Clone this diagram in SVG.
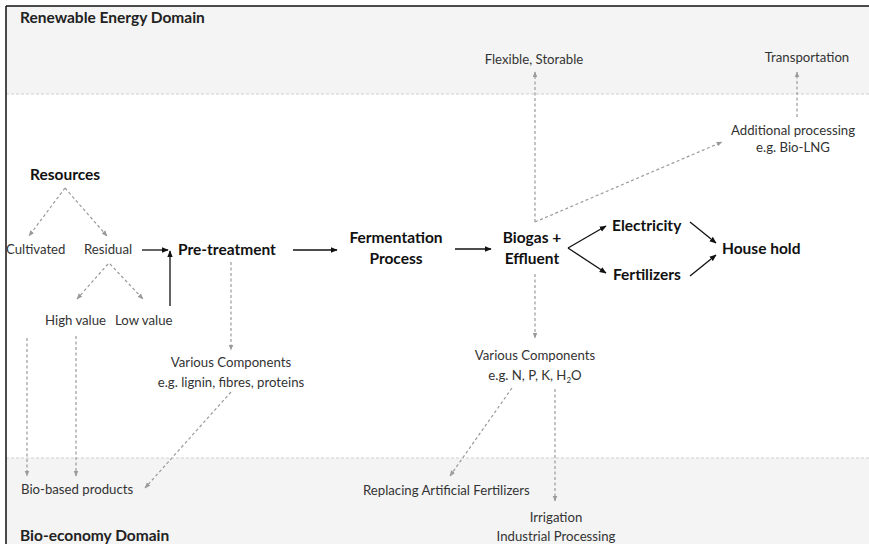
<svg xmlns="http://www.w3.org/2000/svg" width="869" height="544" viewBox="0 0 869 544">
<style>
.t{font-family:Lato,"Liberation Sans",sans-serif;font-size:13.2px;fill:#333}
.b{font-family:Lato,"Liberation Sans",sans-serif;font-size:15.5px;font-weight:bold;fill:#111}
.d{font-family:Lato,"Liberation Sans",sans-serif;font-size:15.5px;font-weight:bold;fill:#222}
.dash{stroke:#9a9a9a;stroke-width:1.2;stroke-dasharray:3,2.5;fill:none;marker-end:url(#ga)}
.sol{stroke:#111;stroke-width:1.3;fill:none;marker-end:url(#ba)}
.sep{stroke:#cfcfcf;stroke-width:1;stroke-dasharray:3,2;fill:none}
</style>
<defs>
<marker id="ga" viewBox="0 0 10 10" refX="9" refY="5" markerWidth="6" markerHeight="6" orient="auto" markerUnits="userSpaceOnUse"><path d="M0,1 L10,5 L0,9 z" fill="#9a9a9a"/></marker>
<marker id="ba" viewBox="0 0 10 10" refX="9" refY="5" markerWidth="7" markerHeight="7" orient="auto" markerUnits="userSpaceOnUse"><path d="M0,1 L10,5 L0,9 z" fill="#111"/></marker>
</defs>
<rect x="0" y="0" width="869" height="544" fill="#fff"/>
<rect x="6" y="6" width="863" height="88" fill="#f4f4f4"/>
<rect x="6" y="458" width="863" height="86" fill="#f4f4f4"/>
<line x1="6" y1="94" x2="869" y2="94" class="sep"/>
<line x1="6" y1="458" x2="869" y2="458" class="sep"/>
<line x1="6" y1="6" x2="869" y2="6" stroke="#111" stroke-width="1.5"/>
<line x1="6" y1="6" x2="6" y2="544" stroke="#111" stroke-width="1.5"/>

<g id="domain-renewable"><text class="d" x="20" y="23">Renewable Energy Domain</text></g>
<g id="domain-bio"><text class="d" x="20" y="541">Bio-economy Domain</text></g>

<g id="connectors">
<line x1="535" y1="222" x2="535" y2="72" class="dash"/>
<line x1="797" y1="117" x2="797" y2="72" class="dash"/>
<line x1="535" y1="222" x2="722" y2="142" class="dash"/>
<line x1="65" y1="188" x2="29" y2="236" class="dash"/>
<line x1="65" y1="188" x2="107" y2="236" class="dash"/>
<line x1="108" y1="264" x2="77" y2="299" class="dash"/>
<line x1="110" y1="264" x2="143" y2="299" class="dash"/>
<line x1="27" y1="338" x2="27" y2="476" class="dash"/>
<line x1="76" y1="336" x2="76" y2="476" class="dash"/>
<line x1="231" y1="262" x2="231" y2="350" class="dash"/>
<line x1="231" y1="392" x2="145" y2="488" class="dash"/>
<line x1="535" y1="274" x2="535" y2="338" class="dash"/>
<line x1="512" y1="388" x2="450" y2="476" class="dash"/>
<line x1="555" y1="389" x2="555" y2="501" class="dash"/>
<line x1="142" y1="250" x2="168" y2="250" class="sol"/>
<line x1="170" y1="306" x2="170" y2="251" class="sol"/>
<line x1="293" y1="250" x2="337" y2="250" class="sol"/>
<line x1="455" y1="249" x2="491" y2="249" class="sol"/>
<line x1="568" y1="248" x2="606" y2="226" class="sol"/>
<line x1="568" y1="248" x2="606" y2="273" class="sol"/>
<line x1="690" y1="222" x2="716" y2="243" class="sol"/>
<line x1="690" y1="276" x2="716" y2="255" class="sol"/>
</g>

<g id="flexible"><text class="t" x="534" y="64" text-anchor="middle">Flexible, Storable</text></g>
<g id="transportation"><text class="t" x="807" y="62" text-anchor="middle">Transportation</text></g>
<g id="additional"><text class="t" x="793" y="135" text-anchor="middle">Additional processing</text><text class="t" x="793" y="152" text-anchor="middle">e.g. Bio-LNG</text></g>
<g id="resources"><text class="b" x="30" y="180">Resources</text></g>
<g id="cultivated"><text class="t" x="6" y="254">Cultivated</text></g>
<g id="residual"><text class="t" x="84" y="254">Residual</text></g>
<g id="pretreatment"><text class="b" x="178" y="255">Pre-treatment</text></g>
<g id="fermentation"><text class="b" x="396" y="243" text-anchor="middle">Fermentation</text><text class="b" x="396" y="264" text-anchor="middle">Process</text></g>
<g id="biogas"><text class="b" x="532" y="243" text-anchor="middle">Biogas +</text><text class="b" x="532" y="264" text-anchor="middle">Effluent</text></g>
<g id="electricity"><text class="b" x="612" y="231">Electricity</text></g>
<g id="fertilizers"><text class="b" x="613" y="280">Fertilizers</text></g>
<g id="household"><text class="b" x="722" y="254">House hold</text></g>
<g id="highvalue"><text class="t" x="45" y="325">High value</text></g>
<g id="lowvalue"><text class="t" x="115" y="325">Low value</text></g>
<g id="components1"><text class="t" x="231" y="367" text-anchor="middle">Various Components</text><text class="t" x="231" y="387" text-anchor="middle">e.g. lignin, fibres, proteins</text></g>
<g id="components2"><text class="t" x="535" y="360" text-anchor="middle">Various Components</text><text class="t" x="535" y="380" text-anchor="middle">e.g. N, P, K, H<tspan font-size="8" dy="3">2</tspan><tspan dy="-3">O</tspan></text></g>
<g id="biobased"><text class="t" x="21" y="494">Bio-based products</text></g>
<g id="replacing"><text class="t" x="363" y="495">Replacing Artificial Fertilizers</text></g>
<g id="irrigation"><text class="t" x="556" y="522" text-anchor="middle">Irrigation</text><text class="t" x="556" y="541" text-anchor="middle">Industrial Processing</text></g>
</svg>
